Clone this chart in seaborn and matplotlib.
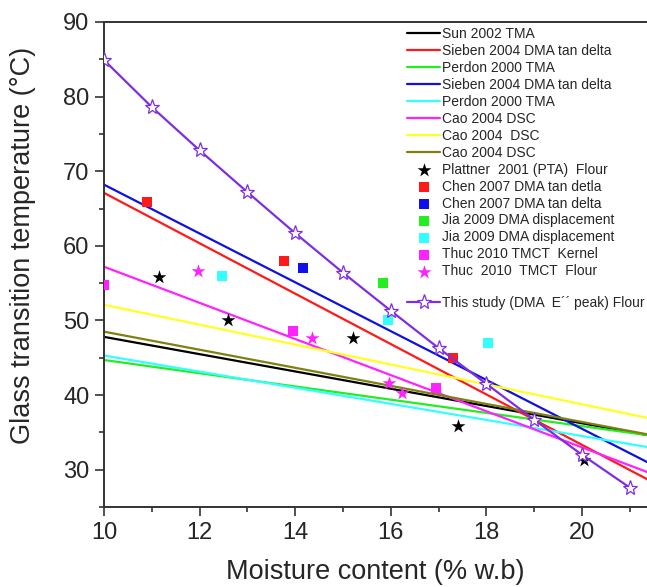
import numpy as np
import pandas as pd
import matplotlib
matplotlib.use("Agg")
import matplotlib.pyplot as plt
import seaborn as sns

# fitted lines, values read at both ends of the moisture range
fit_x = [10, 21.4]
fit_labels = ["Sun 2002 TMA", "Sieben 2004 DMA tan delta", "Perdon 2000 TMA",
              "Sieben 2004 DMA tan delta", "Perdon 2000 TMA", "Cao 2004 DSC",
              "Cao 2004  DSC", "Cao 2004 DSC"]
fit_y = [[47.8, 34.6], [67.1, 28.6], [44.7, 34.6], [68.2, 30.9],
         [45.3, 33.0], [57.2, 29.6], [52.1, 36.9], [48.5, 34.7]]
fit_colors = ["#000000", "#ff1a1a", "#22ee22", "#1010e0",
              "#33ffff", "#ff22ff", "#ffff22", "#808010"]

# literature data points
plattner_x = [11.15, 12.6, 15.2, 17.4, 20.05]
plattner_y = [55.8, 50.0, 47.7, 35.8, 31.3]
chen_red_x = [10.9, 13.77, 17.3]
chen_red_y = [65.9, 58.0, 45.0]
chen_blue_x = [14.16]
chen_blue_y = [57.0]
jia_green_x = [15.84]
jia_green_y = [55.0]
jia_cyan_x = [12.47, 15.94, 18.03]
jia_cyan_y = [56.0, 50.0, 47.0]
thuc_kernel_x = [10.0, 13.95, 16.95]
thuc_kernel_y = [54.8, 48.6, 41.0]
thuc_flour_x = [11.97, 14.35, 15.97, 16.24]
thuc_flour_y = [56.6, 47.7, 41.6, 40.3]

# this study
study_x = [10, 11, 12, 13, 14, 15, 16, 17, 18, 19, 20, 21]
study_y = [84.9, 78.6, 72.8, 67.2, 61.7, 56.4, 51.3, 46.3, 41.5, 36.7, 32.0, 27.6]

sns.set_style("ticks")
plt.rcParams["font.family"] = ["Liberation Sans", "DejaVu Sans"]

fig = plt.figure(figsize=(6.47, 5.87), dpi=100)
ax = fig.add_axes([104 / 647, 1 - 507 / 587, 543 / 647, 485 / 587])

for lab, ys, col in zip(fit_labels, fit_y, fit_colors):
    sns.lineplot(x=fit_x, y=ys, color=col, lw=1.6, label=lab, ax=ax)

points = [
    ("Plattner  2001 (PTA)  Flour", plattner_x, plattner_y, "*", "#000000", 110),
    ("Chen 2007 DMA tan detla", chen_red_x, chen_red_y, "s", "#ff1a1a", 55),
    ("Chen 2007 DMA tan delta", chen_blue_x, chen_blue_y, "s", "#1010ee", 55),
    ("Jia 2009 DMA displacement", jia_green_x, jia_green_y, "s", "#22ee22", 55),
    ("Jia 2009 DMA displacement", jia_cyan_x, jia_cyan_y, "s", "#33ffff", 55),
    ("Thuc 2010 TMCT  Kernel", thuc_kernel_x, thuc_kernel_y, "s", "#ff22ff", 55),
    ("Thuc  2010  TMCT  Flour", thuc_flour_x, thuc_flour_y, "*", "#ff22ff", 110),
]
for lab, xs, ys, mk, col, s in points:
    sns.scatterplot(x=xs, y=ys, marker=mk, color=col, s=s, linewidth=0,
                    label=lab, ax=ax, zorder=3)

sns.lineplot(x=study_x, y=study_y, color="#7d2ee0", lw=1.6, marker="*",
             markersize=11, markerfacecolor="white", markeredgecolor="#7d2ee0",
             markeredgewidth=0.9, label="This study (DMA  E\u00b4\u00b4 peak) Flour",
             ax=ax, zorder=4)

ax.set_xlim(10, 21.36)
ax.set_ylim(25, 90)
ax.set_xticks([10, 12, 14, 16, 18, 20])
ax.set_xticks([11, 13, 15, 17, 19, 21], minor=True)
ax.set_yticks([30, 40, 50, 60, 70, 80, 90])
ax.set_yticks([25, 35, 45, 55, 65, 75, 85], minor=True)
ax.tick_params(which="major", length=6.5, width=1.2, labelsize=17, pad=4, color="#333333")
ax.tick_params(which="minor", length=3.5, width=1.2, color="#333333")
ax.spines["right"].set_visible(False)
for sp in ["left", "bottom", "top"]:
    ax.spines[sp].set_linewidth(1.4)
    ax.spines[sp].set_color("#333333")

ax.set_xlabel("Moisture content (% w.b)", fontsize=19.5, labelpad=11)
ax.set_ylabel("Glass transition temperature (\u00b0C)", fontsize=19.5)
ax.yaxis.set_label_coords(-0.125, 0.54)

handles, labels = ax.get_legend_handles_labels()
leg1 = ax.legend(handles[:15], labels[:15], loc="upper left",
                 bbox_to_anchor=(0.558, 0.989), frameon=False, fontsize=10,
                 borderpad=0, borderaxespad=0, labelspacing=0.21,
                 handlelength=2.4, handletextpad=0.15)
ax.add_artist(leg1)
ax.legend(handles[15:], labels[15:], loc="upper left",
          bbox_to_anchor=(0.558, (507 - 296) / 485), frameon=False, fontsize=10,
          borderpad=0, borderaxespad=0, handlelength=2.4, handletextpad=0.15)

fig.savefig("out.png", dpi=100)
